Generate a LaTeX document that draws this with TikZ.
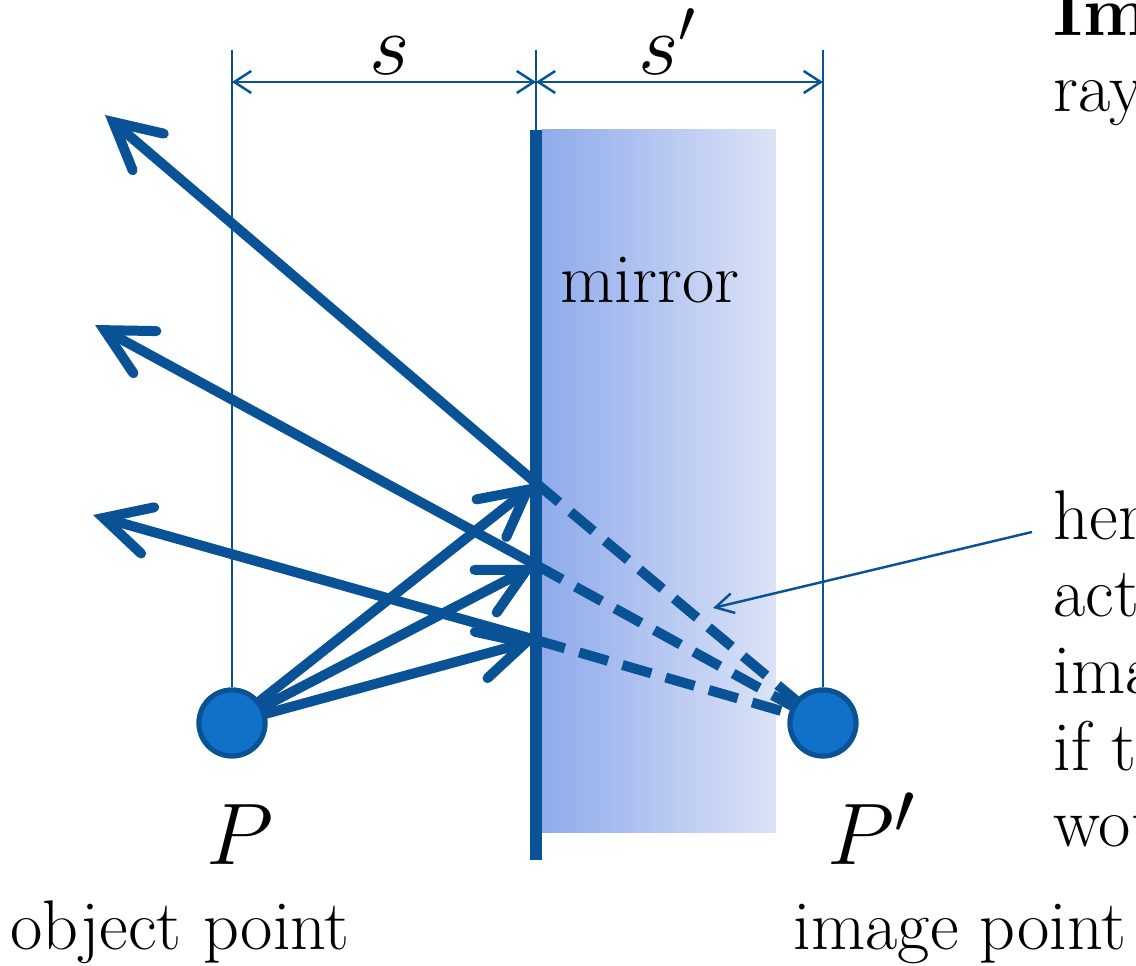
\documentclass[tikz,border=0pt]{standalone}
\usetikzlibrary{arrows.meta}

\definecolor{raycol}{HTML}{0A5296}
\definecolor{dotcol}{HTML}{1170C8}
\definecolor{glassleft}{HTML}{8FABEB}
\definecolor{glassright}{HTML}{DCE3F7}

\begin{document}
\begin{tikzpicture}[
    ray/.style={raycol, line width=0.1cm, line cap=round,
        -{Straight Barb[length=4.6mm, width=4.8mm, line cap=round, line join=miter]}},
    rayback/.style={raycol, line width=0.1cm, dash pattern=on 0.30cm off 0.15cm},
    dimline/.style={raycol, line width=0.6pt},
    dimarrow/.style={raycol, line width=0.7pt,
        {Straight Barb[length=1.7mm, width=2.2mm]}-{Straight Barb[length=1.7mm, width=2.2mm]}},
    dot/.style={circle, draw=raycol, line width=0.05cm, fill=dotcol, minimum size=0.66cm, inner sep=0pt},
    txt/.style={font=\fontsize{20}{21.9}\selectfont}
]
    \useasboundingbox (0,0) rectangle (11.36,9.66);
    \clip (0,0) rectangle (11.36,9.66);

    \coordinate (R1) at (5.36,4.83);
    \coordinate (R2) at (5.36,4.01);
    \coordinate (R3) at (5.36,3.26);

    \coordinate (E1) at (1.05,8.51);
    \coordinate (E2) at (0.95,6.41);
    \coordinate (E3) at (0.93,4.51);

    \coordinate (MT) at (5.36,8.36);
    \coordinate (MB) at (5.36,1.06);

    \coordinate (DP) at (2.32,9.16);
    \coordinate (DM) at (5.36,9.16);
    \coordinate (DQ) at (8.23,9.16);
    \coordinate (AP) at (2.32,8.84);
    \coordinate (AM) at (5.36,8.84);
    \coordinate (AQ) at (8.23,8.84);

    \coordinate (N1) at (10.32,4.34);
    \coordinate (N2) at (7.13,3.58);

    % glass block behind the mirror
    \shade[left color=glassleft, right color=glassright] (5.42,1.33) rectangle (7.76,8.36);

    \node[dot] (P) at (2.32,2.43) {};
    \node[dot] (Pp) at (8.23,2.43) {};

    % distances
    \draw[dimline] (DP) to (P);
    \draw[dimline] (DM) to (MT);
    \draw[dimline] (DQ) to (Pp);
    \draw[dimarrow] (AP) to (AM);
    \draw[dimarrow] (AM) to (AQ);

    \draw[raycol, line width=0.12cm] (MB) to (MT);

    \draw[ray] (P) to (R1);
    \draw[ray] (P) to (R2);
    \draw[ray] (P) to (R3);
    \draw[ray] (R1) to (E1);
    \draw[ray] (R2) to (E2);
    \draw[ray] (R3) to (E3);
    \draw[rayback] (R1) to (Pp);
    \draw[rayback] (R2) to (Pp);
    \draw[rayback] (R3) to (Pp);

    \node[dot] at (P) {};
    \node[dot] at (Pp) {};

    \draw[raycol, line width=0.7pt, -{Straight Barb[length=1.8mm, width=2mm]}] (N1) to (N2);

    \node[txt, anchor=base] (s) at (3.90,8.92) {\fontsize{24}{28}\selectfont$s$};
    \node[txt, anchor=base] (sp) at (6.68,8.92) {\fontsize{24}{28}\selectfont$s'$};
    \node[txt] (mirror) at (6.50,6.86) {mirror};

    \node[txt, anchor=base] (Plabel) at (2.40,1.01) {\fontsize{28}{32}\selectfont$P$};
    \node[txt, anchor=base] (Pplabel) at (8.72,1.01) {\fontsize{28}{32}\selectfont$P'$};
    \node[txt, anchor=base] (obj) at (1.80,0.16) {object point};
    \node[txt, anchor=base] (img) at (9.60,0.16) {image point};

    \node[txt, anchor=base west, align=left, inner sep=0pt] (title) at (10.53,8.54)
        {\textbf{Image}\\rays};
    \node[txt, anchor=base west, align=left, inner sep=0pt] (note) at (10.53,1.19)
        {here\\actual\\image\\if the\\would};
\end{tikzpicture}
\end{document}
